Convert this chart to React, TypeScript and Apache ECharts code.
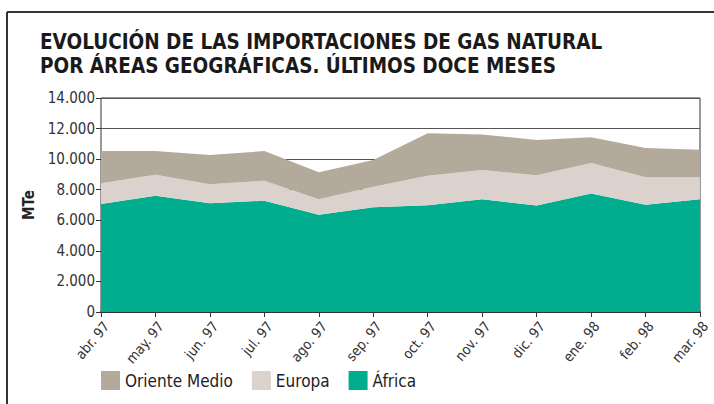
import React, { useEffect, useRef } from "react";
import * as echarts from "echarts";

const categories = ["abr. 97", "may. 97", "jun. 97", "jul. 97", "ago. 97", "sep. 97", "oct. 97", "nov. 97", "dic. 97", "ene. 98", "feb. 98", "mar. 98"];
const africa = [7060, 7610, 7110, 7280, 6370, 6850, 6980, 7370, 6960, 7760, 7020, 7370];
const europa = [1360, 1370, 1240, 1310, 1000, 1350, 1940, 1920, 1980, 1990, 1790, 1440];
const orienteMedio = [2110, 1550, 1920, 1940, 1770, 1740, 2770, 2330, 2310, 1680, 1920, 1810];
const yTicks = [0, 2000, 4000, 6000, 8000, 10000, 12000, 14000];

const FONT = "'Liberation Sans Narrow', 'DejaVu Sans Condensed', 'Arial Narrow', sans-serif";

export default function App() {
  const ref = useRef<HTMLDivElement>(null);
  useEffect(() => {
    const chart = echarts.init(ref.current!, null, { renderer: "svg" });
    const fmt = (v: number) => {
      const s = String(Math.round(v));
      return s.replace(/\B(?=(\d{3})+(?!\d))/g, ".");
    };
    chart.setOption({
      animation: false,
      backgroundColor: "#ffffff",
      textStyle: { fontFamily: FONT },
      title: {
        text: "EVOLUCIÓN DE LAS IMPORTACIONES DE GAS NATURAL\nPOR ÁREAS GEOGRÁFICAS. ÚLTIMOS DOCE MESES",
        left: 40,
        top: 30,
        padding: 0,
        textStyle: { fontFamily: FONT, fontSize: 20.5, fontWeight: "bold", color: "#1a1a1a", lineHeight: 24 },
      },
      graphic: [
        { type: "line", shape: { x1: 7, y1: 12, x2: 714, y2: 12 }, style: { stroke: "#333", lineWidth: 2 } },
        { type: "line", shape: { x1: 7, y1: 12, x2: 7, y2: 404 }, style: { stroke: "#333", lineWidth: 2 } },
      ],
      legend: {
        data: ["Oriente Medio", "Europa", "África"],
        left: 101,
        top: 371,
        padding: 0,
        icon: "rect",
        itemWidth: 19,
        itemHeight: 19,
        itemGap: 19,
        textStyle: { fontFamily: FONT, fontSize: 17, color: "#222" },
      },
      grid: {
        left: 101,
        right: 14,
        top: 98,
        bottom: 92,
        containLabel: false,
        outerBoundsMode: "none",
        show: true,
        borderColor: "#333",
        borderWidth: 1,
        backgroundColor: "transparent",
      },
      xAxis: {
        type: "category",
        data: categories,
        boundaryGap: false,
        axisLine: { lineStyle: { color: "#333", width: 2 } },
        axisTick: { show: true, length: 5, lineStyle: { color: "#333" } },
        axisLabel: {
          rotate: 50,
          fontSize: 14,
          color: "#333",
          margin: 7,
          align: "right",
          verticalAlign: "top",
          fontFamily: FONT,
        },
      },
      yAxis: {
        type: "value",
        min: yTicks[0],
        max: yTicks[yTicks.length - 1],
        interval: 2000,
        name: "MTe",
        nameLocation: "middle",
        nameGap: 60,
        nameRotate: 90,
        nameTextStyle: { fontFamily: FONT, fontSize: 15, fontWeight: "bold", color: "#222" },
        axisLine: { show: false },
        axisTick: { show: true, length: 5, lineStyle: { color: "#333" } },
        axisLabel: { fontSize: 15, color: "#333", margin: 6, formatter: fmt, fontFamily: FONT },
        splitLine: { show: true, lineStyle: { color: "#555", width: 1 } },
      },
      series: [
        {
          name: "África",
          type: "line",
          stack: "total",
          data: africa,
          showSymbol: false,
          lineStyle: { width: 0 },
          areaStyle: { color: "#00ad8f", opacity: 1 },
          itemStyle: { color: "#00ad8f" },
        },
        {
          name: "Europa",
          type: "line",
          stack: "total",
          data: europa,
          showSymbol: false,
          lineStyle: { width: 0 },
          areaStyle: { color: "#dbd1cd", opacity: 1 },
          itemStyle: { color: "#dbd1cd" },
        },
        {
          name: "Oriente Medio",
          type: "line",
          stack: "total",
          data: orienteMedio,
          showSymbol: false,
          lineStyle: { width: 0 },
          areaStyle: { color: "#b3aa9b", opacity: 1 },
          itemStyle: { color: "#b3aa9b" },
        },
      ],
    });
    return () => chart.dispose();
  }, []);
  return <div ref={ref} style={{ position: "fixed", left: 0, top: 0, width: 714, height: 404 }} />;
}
